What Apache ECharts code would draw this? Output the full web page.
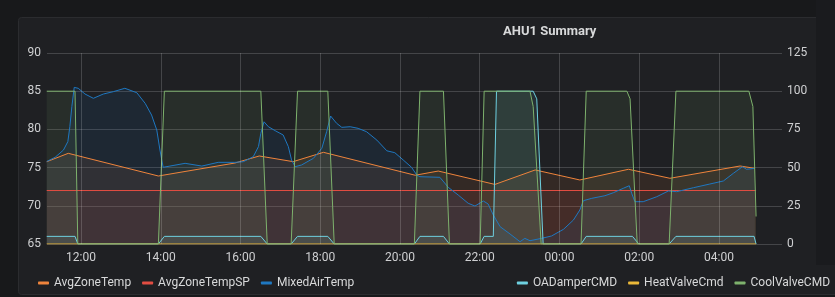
<!DOCTYPE html>
<html>
<head>
<meta charset="utf-8">
<script src="https://cdn.jsdelivr.net/npm/echarts@6/dist/echarts.min.js"></script>
<style>
html,body{margin:0;padding:0;background:#18191b;}
#c{width:835px;height:297px;}
</style>
</head>
<body>
<div id="c"></div>
<script>
// Time in hours from midnight of the first day (values > 24 are the next day)
const xRange = [11.147, 29.455];
const xTickHours = [12, 14, 16, 18, 20, 22, 24, 26, 28];
const leftTicks = [65, 90, 5];     // min, max, interval
const rightTicks = [0, 125, 25];

const avgZoneTemp = [
  [11.14,75.77],[11.68,76.87],[13.94,73.9],[15.86,75.6],[16.47,76.52],[17.32,75.78],
  [18.08,77.0],[20.38,74.0],[20.96,74.55],[22.38,72.8],[23.39,74.69],[24.51,73.38],
  [25.73,74.78],[26.77,73.6],[28.53,75.21],[28.90,74.9]
];
const avgZoneTempSP = [[11.14,72],[28.93,72]];
const mixedAirTemp = [
  [11.14,75.8],[11.35,76.35],[11.56,77.3],[11.67,78.4],[11.72,80.35],[11.77,82.97],[11.83,85.5],
  [11.93,85.38],[12.10,84.63],[12.31,84.07],[12.56,84.63],[12.81,84.94],[13.10,85.38],[13.40,84.8],
  [13.61,83.4],[13.77,81.88],[13.90,79.92],[13.98,77.3],[14.06,75.04],[14.23,75.2],[14.61,75.56],
  [15.03,75.2],[15.44,75.69],[15.86,75.69],[16.07,75.77],[16.32,76.43],[16.45,77.74],[16.51,79.49],
  [16.59,81.0],[16.70,80.35],[16.87,79.83],[17.07,79.27],[17.20,77.74],[17.28,76.0],[17.37,75.12],
  [17.53,75.34],[17.83,76.22],[18.04,77.53],[18.16,79.7],[18.26,81.75],[18.41,80.8],[18.54,80.27],
  [18.75,80.35],[18.95,80.14],[19.16,79.7],[19.42,78.6],[19.67,77.2],[19.87,76.95],[20.08,76.0],
  [20.29,75.04],[20.42,74.03],[20.50,73.81],[21.00,73.73],[21.21,72.42],[21.46,71.41],[21.71,70.33],
  [21.88,69.97],[22.09,70.63],[22.21,70.24],[22.34,68.8],[22.51,67.27],[22.76,66.31],[23.01,65.3],
  [23.13,65.74],[23.26,65.43],[23.55,65.74],[23.80,66.05],[24.10,66.92],[24.35,68.14],[24.51,69.45],
  [24.60,70.67],[24.81,70.98],[25.14,71.32],[25.35,71.71],[25.60,72.29],[25.75,72.63],[25.81,71.64],
  [25.89,70.54],[26.10,70.54],[26.44,71.19],[26.73,71.94],[26.94,71.85],[27.36,72.37],[27.77,72.85],
  [28.11,73.25],[28.36,74.25],[28.59,75.12],[28.69,74.78],[28.90,74.9]
];
const oaDamperCMD = [
  [11.14,5],[11.85,5],[11.92,0],[13.94,0],[14.09,5],[16.51,5],[16.67,0],[17.27,0],[17.43,5],
  [18.19,5],[18.35,0],[20.36,0],[20.50,5],[21.09,5],[21.24,0],[22.01,0],[22.11,5],[22.34,5],
  [22.42,100],[23.34,100],[23.43,95],[23.59,0],[24.54,0],[24.67,5],[25.83,5],[25.99,0],[26.75,0],
  [26.92,5],[28.88,5],[28.93,0]
];
const heatValveCmd = [[11.14,0],[28.93,0]];
const coolValveCMD = [
  [11.14,100],[11.85,100],[11.92,0],[13.94,0],[14.09,100],[16.51,100],[16.67,0],[17.27,0],
  [17.43,100],[18.19,100],[18.35,0],[20.36,0],[20.50,100],[21.09,100],[21.24,0],[22.01,0],
  [22.11,100],[23.26,100],[23.34,90],[23.54,0],[24.54,0],[24.67,100],[25.69,100],[25.77,95],
  [25.95,0],[26.75,0],[26.92,100],[28.75,100],[28.85,90],[28.93,18]
];
const names = ['AvgZoneTemp','AvgZoneTempSP','MixedAirTemp','OADamperCMD','HeatValveCmd','CoolValveCMD'];
const colors = ['#EF843C','#E24D42','#1F78C1','#6ED0E0','#EAB839','#7EB26D'];
const seriesData = [avgZoneTemp, avgZoneTempSP, mixedAirTemp, oaDamperCMD, heatValveCmd, coolValveCMD];
const axisIdx = [0,0,0,1,1,1];

const BASE = new Date(2020,0,1,0,0,0).getTime();
const H = 3600000;
const ts = h => BASE + h * H;
const pad = n => (n < 10 ? '0' : '') + n;

const chart = echarts.init(document.getElementById('c'), null, {renderer:'canvas'});
const gridColor = 'rgba(255,255,255,0.17)';
const textColor = '#cfd0d2';
const font = 'Roboto, "Noto Sans", sans-serif';

const series = names.map((n,i)=>({
  name:n, type:'line', yAxisIndex:axisIdx[i],
  data: seriesData[i].map(p=>[ts(p[0]), p[1]]),
  symbol:'none', showSymbol:false, smooth:false,
  lineStyle:{width:1, color:colors[i]},
  itemStyle:{color:colors[i]},
  areaStyle:{color:colors[i], opacity:0.1},
  emphasis:{disabled:true},
  animation:false
}));
// vertical grid lines at the 2-hour ticks
series[0].markLine = {
  silent:true, symbol:'none', animation:false,
  label:{show:false},
  lineStyle:{color:gridColor, width:1, type:'solid'},
  emphasis:{disabled:true},
  data: xTickHours.map(h=>({xAxis: ts(h)}))
};

chart.setOption({
  backgroundColor:'#18191b',
  animation:false,
  textStyle:{fontFamily:font},
  graphic:[
    {type:'rect', z:-10, silent:true, shape:{x:18.5,y:17.5,width:830,height:277,r:3},
     style:{fill:'#1f2023', stroke:'#2b2c2f', lineWidth:1}},
    {type:'rect', z:-9, silent:true, shape:{x:816,y:0,width:19,height:265},
     style:{fill:'#1a1b1e'}},
    {type:'text', z:10, silent:true, left:503, top:25,
     style:{text:'AHU1 Summary', fill:'#d8d9da', font:'bold 13px Roboto, sans-serif'}}
  ],
  grid:{left:47, right:58, top:53, bottom:53, containLabel:false},
  legend:[
    {data:names.slice(0,3), left:38, top:277, padding:0, icon:'roundRect', itemWidth:11, itemHeight:3, itemGap:11,
     textStyle:{color:'#d8d9da', fontSize:12, fontFamily:font}, selectedMode:false},
    {data:names.slice(3), right:5, top:277, padding:0, icon:'roundRect', itemWidth:11, itemHeight:3, itemGap:11,
     textStyle:{color:'#d8d9da', fontSize:12, fontFamily:font}, selectedMode:false}
  ],
  xAxis:{
    type:'time', min:ts(xRange[0]), max:ts(xRange[1]),
    axisLine:{show:false}, axisTick:{show:false},
    axisLabel:{color:textColor, fontSize:12, margin:8, hideOverlap:false,
      showMinLabel:false, showMaxLabel:false,
      formatter:function(v){
        const d = new Date(v);
        const hrs = (v - BASE) / H;
        if (d.getMinutes() !== 0 || xTickHours.indexOf(Math.round(hrs)) < 0 || Math.abs(hrs - Math.round(hrs)) > 1e-6) return '';
        return pad(d.getHours()) + ':' + pad(d.getMinutes());
      }},
    splitLine:{show:false}
  },
  yAxis:[
    {type:'value', min:leftTicks[0], max:leftTicks[1], interval:leftTicks[2], position:'left',
     axisLine:{show:false}, axisTick:{show:false},
     axisLabel:{color:textColor, fontSize:12, margin:6},
     splitLine:{show:true, lineStyle:{color:gridColor, width:1}}},
    {type:'value', min:rightTicks[0], max:rightTicks[1], interval:rightTicks[2], position:'right',
     axisLine:{show:false}, axisTick:{show:true, length:5, lineStyle:{color:gridColor}},
     axisLabel:{color:textColor, fontSize:12, margin:10},
     splitLine:{show:false}}
  ],
  series:series
});
</script>
</body>
</html>
